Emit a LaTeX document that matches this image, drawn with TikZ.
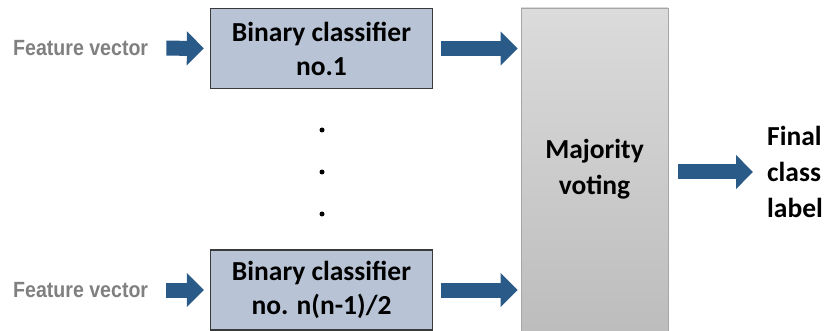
\documentclass[tikz,border=0pt]{standalone}
\usepackage{fontspec}
\usepackage{graphicx}
\setmainfont{Carlito}
\newfontfamily\fvfont{Liberation Sans}
\usetikzlibrary{arrows.meta}
\definecolor{arrowblue}{HTML}{2A5A88}
\definecolor{boxfill}{HTML}{B8C4D6}
\definecolor{boxline}{HTML}{3A3A3A}
\definecolor{fvgray}{HTML}{808080}
\begin{document}
\begin{tikzpicture}[x=1pt,y=-1pt,
  barrow/.style={draw=arrowblue,line width=15pt,line cap=butt,
    -{Triangle[width=33pt,length=17pt]}},
  clsbox/.style={draw=boxline,line width=1.3pt,fill=boxfill,minimum width=222pt,
    minimum height=80pt,inner sep=0pt,align=center,
    font=\bfseries\fontsize{27.5}{34}\selectfont},
  fvtext/.style={text=fvgray,inner sep=0pt,anchor=west,
    font=\fvfont\bfseries\fontsize{22}{24}\selectfont},
  dotmark/.style={fill=black,circle,inner sep=0pt,minimum size=5pt}
]
\useasboundingbox (0,0) rectangle (835,331);
\node[clsbox] (b1) at (321.5,48.5) {Binary classifier\\no.1};
\node[clsbox] (b2) at (321.5,290) {Binary classifier\\no. n(n-1)/2};
\node[fvtext] (fv1) at (13,48) {\scalebox{0.89}[1]{Feature vector}};
\node[fvtext] (fv2) at (13,290) {\scalebox{0.89}[1]{Feature vector}};
\node[draw=black!35,line width=0.6pt,top color=black!14,bottom color=black!26,
  minimum width=147pt,minimum height=323pt,inner sep=0pt,align=center,
  font=\bfseries\fontsize{27.5}{36}\selectfont] (mv) at (594.5,169.5) {Majority\\voting};
\node[inner sep=0pt,anchor=west,align=left,font=\bfseries\fontsize{27.5}{36}\selectfont]
  (fin) at (767,172) {Final\\class\\label};
\node[dotmark] (d1) at (322,130) {};
\node[dotmark] (d2) at (322,172) {};
\node[dotmark] (d3) at (322,214) {};
\draw[barrow,shorten <=18pt,shorten >=6pt] (fv1.east) -- (b1.west);
\draw[barrow,shorten <=18pt,shorten >=6pt] (fv2.east) -- (b2.west);
\draw[barrow,shorten <=8pt,shorten >=3pt] (b1.east) -- (b1.east -| mv.west);
\draw[barrow,shorten <=8pt,shorten >=3pt] (b2.east) -- (b2.east -| mv.west);
\draw[barrow,shorten <=10pt,shorten >=14pt] (mv.east |- fin.west) -- (fin.west);
\end{tikzpicture}
\end{document}
